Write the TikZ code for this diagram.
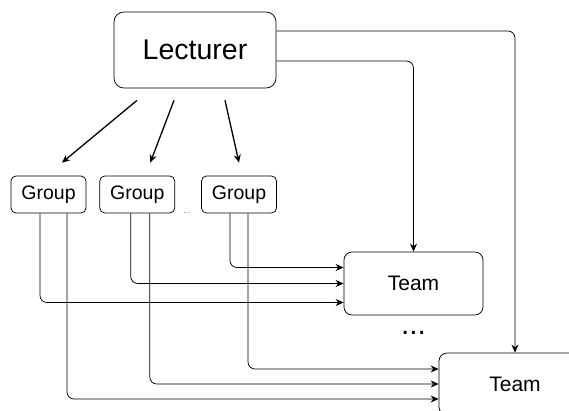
\documentclass[tikz,border=0pt]{standalone}
\usepackage{fontspec}
\setmainfont{Liberation Sans}
\usetikzlibrary{positioning, arrows.meta}

\begin{document}
\begin{tikzpicture}[x=1pt, y=-1pt, line width=0.75pt,
    every node/.style={rectangle, draw, rounded corners=8pt, inner sep=0pt},
    groupbox/.style={minimum width=75pt, minimum height=37pt, rounded corners=5pt, font=\fontsize{19.5}{22}\selectfont},
    teambox/.style={minimum height=63pt, font=\fontsize{21}{24}\selectfont},
    link/.style={->, >={Stealth[length=8pt, width=7pt]}, rounded corners=7pt}]
    \useasboundingbox (0,0) rectangle (569,411);
    \node[minimum width=162pt, minimum height=76pt, rounded corners=10pt, font=\fontsize{28.5}{32}\selectfont] (lect) at (195,50) {Lecturer};
    \node[groupbox] (g1) at (48.5,194.5) {Group};
    \node[groupbox, right=13pt of g1] (g2) {Group};
    \node[groupbox, right=26pt of g2] (g3) {Group};
    \node[draw=none, text=black!60, font=\footnotesize, anchor=base] (gdots) at (187,214) {...};
    \node[teambox, minimum width=139pt] (t1) at (413.5,283.5) {Team};
    \node[draw=none, font=\fontsize{30}{30}\selectfont, anchor=base] (tdots) at ([yshift=-19pt]t1.south) {...};
    \node[teambox, minimum width=152pt, minimum height=62pt] (t2) at (515,384) {Team};
    % Arrows
    \draw[link, line width=1.3pt] ([xshift=-58pt, yshift=-12pt]lect.south) -- ([xshift=13.5pt, yshift=13pt]g1.north);
    \draw[link, line width=1.3pt] ([xshift=-21pt, yshift=-12pt]lect.south) -- ([xshift=13pt, yshift=13pt]g2.north);
    \draw[link, line width=1.3pt] ([xshift=30pt, yshift=-12pt]lect.south) -- ([yshift=13pt]g3.north);
    \draw[link] ([yshift=19pt]lect.east) -| (t2.north);
    \draw[link] ([yshift=-11pt]lect.east) -| (t1.north);
    % Groups to teams
    \draw[link] ([xshift=-9pt]g3.south) |- ([yshift=16pt]t1.west);
    \draw[link] ([xshift=-6.5pt]g2.south) |- (t1.west);
    \draw[link] ([xshift=-8.5pt]g1.south) |- ([yshift=-19pt]t1.west);
    \draw[link] ([xshift=9pt]g3.south) |- ([yshift=15pt]t2.west);
    \draw[link] ([xshift=12.5pt]g2.south) |- (t2.west);
    \draw[link] ([xshift=18.5pt]g1.south) |- ([yshift=-15pt]t2.west);
\end{tikzpicture}
\end{document}
